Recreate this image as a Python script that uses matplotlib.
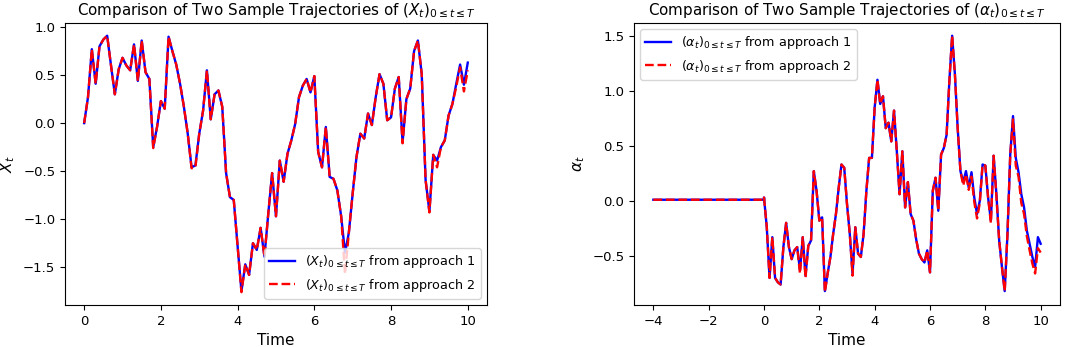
import numpy as np
import matplotlib
matplotlib.use('Agg')
import matplotlib.pyplot as plt

# left panel: X_t on a 0.1 time grid, 0 <= t <= 10
x_approach_1 = [
    0.00, 0.27, 0.77, 0.41, 0.80, 0.87, 0.91, 0.60, 0.30, 0.56,
    0.68, 0.60, 0.55, 0.82, 0.44, 0.86, 0.53, 0.46, -0.25, -0.04,
    0.23, 0.15, 0.90, 0.75, 0.61, 0.41, 0.17, -0.11, -0.46, -0.44,
    -0.11, 0.13, 0.55, 0.04, 0.30, 0.34, 0.17, -0.52, -0.77, -0.80,
    -1.28, -1.75, -1.47, -1.58, -1.25, -1.32, -1.09, -1.39, -0.94, -0.52,
    -0.97, -0.39, -0.61, -0.32, -0.18, -0.01, 0.27, 0.39, 0.46, 0.32,
    0.49, -0.30, -0.46, -0.04, -0.56, -0.58, -0.70, -0.97, -1.35, -1.14,
    -0.73, -0.35, -0.11, -0.16, 0.10, -0.02, 0.27, 0.51, 0.41, 0.03,
    0.06, 0.36, 0.48, -0.20, 0.25, 0.36, 0.75, 0.86, 0.51, -0.59,
    -0.92, -0.33, -0.39, -0.25, -0.18, 0.08, 0.20, 0.41, 0.61, 0.40,
    0.63,
]
x_approach_2 = [
    0.00, 0.27, 0.77, 0.41, 0.80, 0.87, 0.91, 0.60, 0.30, 0.56,
    0.68, 0.60, 0.55, 0.82, 0.44, 0.86, 0.53, 0.46, -0.26, -0.04,
    0.23, 0.15, 0.90, 0.75, 0.61, 0.41, 0.17, -0.11, -0.47, -0.46,
    -0.11, 0.13, 0.55, 0.04, 0.30, 0.34, 0.17, -0.52, -0.77, -0.80,
    -1.28, -1.76, -1.47, -1.58, -1.25, -1.32, -1.09, -1.39, -0.94, -0.52,
    -0.97, -0.39, -0.61, -0.32, -0.18, -0.01, 0.27, 0.39, 0.46, 0.32,
    0.49, -0.30, -0.46, -0.04, -0.56, -0.58, -0.70, -0.97, -1.57, -1.14,
    -0.73, -0.35, -0.11, -0.16, 0.10, -0.02, 0.27, 0.51, 0.41, 0.03,
    0.06, 0.36, 0.48, -0.21, 0.25, 0.36, 0.75, 0.86, 0.51, -0.59,
    -0.93, -0.33, -0.46, -0.25, -0.18, 0.08, 0.20, 0.38, 0.58, 0.33,
    0.55,
]

# right panel: alpha_t, flat before t = 0 then on a 0.1 grid up to 10
alpha_history_t = [-4.0, 0.0]
alpha_history = [0.01, 0.01]
alpha_approach_1 = [
    0.03, -0.24, -0.70, -0.33, -0.70, -0.74, -0.76, -0.42, -0.20, -0.42,
    -0.53, -0.45, -0.42, -0.63, -0.33, -0.68, -0.41, -0.36, 0.27, 0.09,
    -0.18, -0.15, -0.82, -0.66, -0.51, -0.30, -0.12, 0.12, 0.33, 0.30,
    -0.03, -0.30, -0.66, -0.24, -0.48, -0.51, -0.30, 0.09, 0.39, 0.39,
    0.85, 1.10, 0.88, 0.95, 0.66, 0.71, 0.54, 0.82, 0.45, 0.06,
    0.45, -0.06, 0.17, -0.12, -0.18, -0.35, -0.48, -0.53, -0.56, -0.45,
    -0.65, 0.09, 0.21, -0.09, 0.42, 0.48, 0.60, 1.09, 1.50, 1.15,
    0.66, 0.27, 0.17, 0.27, 0.12, 0.26, 0.03, -0.12, 0.00, 0.33,
    0.32, 0.03, -0.18, 0.41, 0.06, -0.36, -0.60, -0.82, -0.30, 0.42,
    0.77, 0.39, 0.26, 0.06, -0.06, -0.27, -0.39, -0.51, -0.60, -0.33,
    -0.39,
]
alpha_approach_2 = [
    0.03, -0.24, -0.70, -0.33, -0.70, -0.74, -0.76, -0.42, -0.20, -0.42,
    -0.53, -0.45, -0.42, -0.66, -0.33, -0.70, -0.41, -0.36, 0.27, 0.09,
    -0.18, -0.15, -0.83, -0.66, -0.51, -0.30, -0.12, 0.12, 0.33, 0.30,
    -0.03, -0.30, -0.68, -0.24, -0.48, -0.51, -0.30, 0.09, 0.39, 0.39,
    0.85, 1.10, 0.88, 0.95, 0.66, 0.71, 0.54, 0.82, 0.45, 0.06,
    0.45, -0.06, 0.17, -0.12, -0.18, -0.35, -0.48, -0.53, -0.56, -0.45,
    -0.65, 0.09, 0.21, -0.09, 0.42, 0.48, 0.60, 1.09, 1.50, 1.15,
    0.66, 0.27, 0.14, 0.24, 0.10, 0.22, -0.01, -0.16, -0.02, 0.33,
    0.32, 0.03, -0.20, 0.41, 0.04, -0.36, -0.60, -0.82, -0.30, 0.42,
    0.74, 0.32, 0.22, -0.02, -0.12, -0.32, -0.45, -0.57, -0.66, -0.43,
    -0.47,
]


def main():
    fig = plt.figure(figsize=(10.74, 3.47), dpi=100)
    ax_x = fig.add_axes([0.0605, 0.121, 0.3929, 0.813])
    ax_a = fig.add_axes([0.5903, 0.121, 0.3967, 0.813])

    t = np.linspace(0, 10, len(x_approach_1))
    label_x = r'$(X_t)_{0\leq t\leq T}$'
    ax_x.plot(t, x_approach_1, 'b-', lw=1.7, label=label_x + ' from approach 1')
    ax_x.plot(t, x_approach_2, 'r--', lw=1.7, label=label_x + ' from approach 2')
    ax_x.set_title(r'Comparison of Two Sample Trajectories of $(X_t)_{0\leq t\leq T}$', fontsize=10.9)
    ax_x.set_xlabel('Time', fontsize=11)
    ax_x.set_ylabel(r'$X_t$', fontsize=11)
    ax_x.legend(loc='lower right', fontsize=9.2)

    ta = np.linspace(0, 10, len(alpha_approach_1))
    label_a = r'$(\alpha_t)_{0\leq t\leq T}$'
    ax_a.plot(alpha_history_t + list(ta), alpha_history + alpha_approach_1,
              'b-', lw=1.7, label=label_a + ' from approach 1')
    ax_a.plot(alpha_history_t + list(ta), alpha_history + alpha_approach_2,
              'r--', lw=1.7, label=label_a + ' from approach 2')
    ax_a.set_title(r'Comparison of Two Sample Trajectories of $(\alpha_t)_{0\leq t\leq T}$', fontsize=10.9)
    ax_a.set_xlabel('Time', fontsize=11)
    ax_a.set_ylabel(r'$\alpha_t$', fontsize=11)
    ax_a.legend(loc='upper left', fontsize=9.2)

    for ax in (ax_x, ax_a):
        ax.tick_params(labelsize=9.5)

    fig.savefig('out.png', dpi=100)


if __name__ == '__main__':
    main()
